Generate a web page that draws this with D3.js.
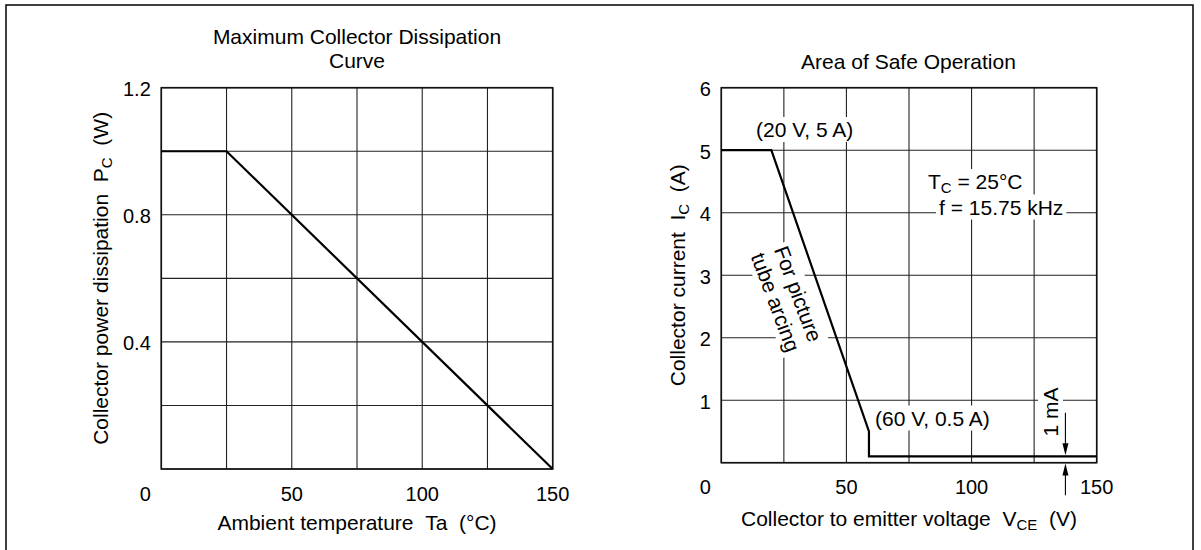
<!DOCTYPE html>
<html><head><meta charset="utf-8">
<script src="https://cdn.jsdelivr.net/npm/d3@7"></script>
<style>
body{margin:0;background:#fff}
text{font-family:"Liberation Sans",Arial,Helvetica,sans-serif;fill:#000}
</style>
</head><body>
<svg id="c" width="1201" height="550"></svg>
<script>
// ---- data ----
const dissTemp = [0, 25, 150];
const dissPower = [1.0, 1.0, 0];
const dissGridX = [0, 25, 50, 75, 100, 125, 150];
const dissGridY = [0, 0.2, 0.4, 0.6, 0.8, 1.0, 1.2];
const dissXTicks = [50, 100, 150];
const dissYTicks = [0.4, 0.8, 1.2];

const soaVoltage = [0, 20, 59, 59, 150];
const soaCurrent = [5, 5, 0.5, 0.1, 0.1];
const soaGridX = [0, 25, 50, 75, 100, 125, 150];
const soaGridY = [0, 1, 2, 3, 4, 5, 6];
const soaXTicks = [50, 100, 150];
const soaYTicks = [1, 2, 3, 4, 5, 6];
const zeroLabel = "0";

const svg = d3.select("#c");
svg.append("rect").attr("width",1201).attr("height",550).attr("fill","#fff");
svg.append("rect").attr("x",6).attr("y",5).attr("width",1187).attr("height",570)
  .attr("fill","none").attr("stroke","#000").attr("stroke-width",1.5);

const FS = 21, TFS = 20, SUB = 15, SUBDY = 3.5;

function richText(g, parts, attrs) {
  const t = g.append("text");
  Object.entries(attrs).forEach(([k,v]) => t.attr(k, v));
  let shifted = false;
  parts.forEach(p => {
    const ts = t.append("tspan").text(p.t);
    if (p.sub) { ts.attr("font-size", SUB).attr("dy", SUBDY); shifted = true; }
    else if (shifted) { ts.attr("dy", -SUBDY); shifted = false; }
  });
  return t;
}
function withBg(g, t, pad) {
  const b = t.node().getBBox();
  g.insert("rect", () => t.node())
    .attr("x", b.x - pad).attr("y", b.y - 1)
    .attr("width", b.width + 2*pad).attr("height", b.height + 2)
    .attr("fill", "#fff");
}

function drawPanel(cfg) {
  const {x, y} = cfg;
  const g = svg.append("g");
  const grid = g.append("g").attr("stroke", "#222").attr("stroke-width", 1.1);
  grid.selectAll("line.v").data(cfg.gridX).join("line")
    .attr("x1", d => x(d)).attr("x2", d => x(d))
    .attr("y1", y.range()[1]).attr("y2", y.range()[0]);
  grid.selectAll("line.h").data(cfg.gridY).join("line")
    .attr("y1", d => y(d)).attr("y2", d => y(d))
    .attr("x1", x.range()[0]).attr("x2", x.range()[1]);
  const ann = g.append("g");
  if (cfg.annotations) {
    cfg.annotations(ann);
    ann.selectAll("text").each(function(){ this.parentNode.appendChild(this); });
  }
  g.append("rect")
    .attr("x", x.range()[0]).attr("y", y.range()[1])
    .attr("width", x.range()[1] - x.range()[0]).attr("height", y.range()[0] - y.range()[1])
    .attr("fill", "none").attr("stroke", "#111").attr("stroke-width", 1.6);
  const line = d3.line().x(d => x(d[0])).y(d => y(d[1]));
  g.append("path").datum(d3.zip(cfg.xs, cfg.ys)).attr("d", line)
    .attr("fill", "none").attr("stroke", "#000").attr("stroke-width", 2.2)
    .attr("stroke-linejoin", "miter");
  // tick labels
  const labX = x.range()[0] - 10.5;
  g.selectAll("text.yt").data(cfg.yTicks).join("text")
    .attr("x", labX).attr("y", d => y(d) + 8.5).attr("text-anchor", "end")
    .attr("font-size", TFS).text(d => cfg.yFmt(d));
  const xb = y.range()[0] + 31.5;
  g.selectAll("text.xt").data(cfg.xTicks).join("text")
    .attr("x", d => x(d)).attr("y", xb).attr("text-anchor", "middle")
    .attr("font-size", TFS).text(d => d);
  g.append("text").attr("x", labX).attr("y", xb).attr("text-anchor", "end")
    .attr("font-size", TFS).text(zeroLabel);
  // titles
  cfg.title.forEach((s, i) => {
    g.append("text").attr("x", cfg.titleX).attr("y", cfg.titleY + i * 24.5)
      .attr("text-anchor", "middle").attr("font-size", FS).text(s);
  });
  richText(g, cfg.xTitle, {x: (x.range()[0] + x.range()[1]) / 2, y: cfg.xTitleY,
    "text-anchor": "middle", "font-size": FS});
  const yc = (y.range()[0] + y.range()[1]) / 2;
  richText(g, cfg.yTitle, {transform: `translate(${cfg.yTitleX},${yc}) rotate(-90)`,
    "text-anchor": "middle", "font-size": FS});
  return g;
}

const xL = d3.scaleLinear([0, 150], [161.3, 552.7]);
const yL = d3.scaleLinear([0, 1.2], [469, 87.7]);
drawPanel({
  x: xL, y: yL, gridX: dissGridX, gridY: dissGridY,
  xs: dissTemp, ys: dissPower, xTicks: dissXTicks, yTicks: dissYTicks,
  yFmt: d => d3.format(".1f")(d),
  title: ["Maximum Collector Dissipation", "Curve"], titleX: 357, titleY: 43.5,
  xTitle: [{t: "Ambient temperature\u00a0\u00a0Ta\u00a0\u00a0(°C)"}], xTitleY: 530,
  yTitle: [{t: "Collector power dissipation\u00a0\u00a0P"}, {t: "C", sub: true}, {t: "\u00a0\u00a0(W)"}],
  yTitleX: 108
});

const xR = d3.scaleLinear([0, 150], [721.3, 1096.7]);
const yR = d3.scaleLinear([0, 6], [462.7, 87.7]);
drawPanel({
  x: xR, y: yR, gridX: soaGridX, gridY: soaGridY,
  xs: soaVoltage, ys: soaCurrent, xTicks: soaXTicks, yTicks: soaYTicks,
  yFmt: d => d,
  title: ["Area of Safe Operation"], titleX: 908.5, titleY: 68.5,
  xTitle: [{t: "Collector to emitter voltage\u00a0\u00a0V"}, {t: "CE", sub: true}, {t: "\u00a0\u00a0(V)"}], xTitleY: 526,
  yTitle: [{t: "Collector current\u00a0\u00a0I"}, {t: "C", sub: true}, {t: "\u00a0\u00a0(A)"}],
  yTitleX: 685,
  annotations: ann => {
    let t = richText(ann, [{t: "(20 V, 5 A)"}], {x: 756, y: 137, "font-size": FS});
    withBg(ann, t, 3);
    t = richText(ann, [{t: "T"}, {t: "C", sub: true}, {t: " = 25°C"}], {x: 928, y: 189, "font-size": FS});
    withBg(ann, t, 3);
    t = richText(ann, [{t: "f = 15.75 kHz"}], {x: 939, y: 214.5, "font-size": FS});
    withBg(ann, t, 3);
    t = richText(ann, [{t: "(60 V, 0.5 A)"}], {x: 875, y: 425.5, "font-size": FS});
    withBg(ann, t, 3);
    const rg = ann.append("g").attr("transform", "translate(787,298) rotate(69.5)");
    t = richText(rg, [{t: "For picture"}], {x: 0, y: -12 + 7.5, "text-anchor": "middle", "font-size": FS});
    withBg(rg, t, 3);
    t = richText(rg, [{t: "tube arcing"}], {x: 0, y: 12 + 7.5, "text-anchor": "middle", "font-size": FS});
    withBg(rg, t, 3);
    const mg = ann.append("g").attr("transform", "translate(1058,412) rotate(-90)");
    t = richText(mg, [{t: "1 mA"}], {x: 0, y: 0, "text-anchor": "middle", "font-size": FS});
    withBg(mg, t, 2);
    // arrows
    const ax = xR(137.5);
    const tipTop = yR(0.1) - 1.2, tipBot = yR(0) + 0.8;
    ann.append("line").attr("x1", ax).attr("x2", ax).attr("y1", yR(0.8)).attr("y2", tipTop - 10)
      .attr("stroke", "#000").attr("stroke-width", 1.1);
    ann.append("path").attr("d", `M${ax-3},${tipTop-12}L${ax+3},${tipTop-12}L${ax},${tipTop}Z`).attr("fill", "#000");
    ann.append("line").attr("x1", ax).attr("x2", ax).attr("y1", tipBot + 10).attr("y2", yR(-0.52))
      .attr("stroke", "#000").attr("stroke-width", 1.1);
    ann.append("path").attr("d", `M${ax-3},${tipBot+12}L${ax+3},${tipBot+12}L${ax},${tipBot}Z`).attr("fill", "#000");
  }
});
</script>
</body></html>
